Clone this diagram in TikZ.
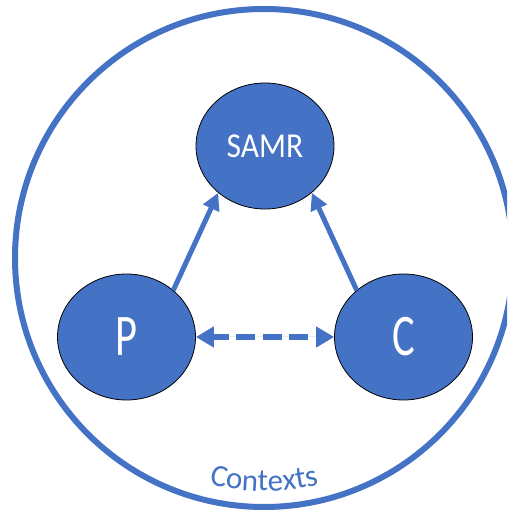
\documentclass[tikz,border=0pt]{standalone}
\usepackage{fontspec}
\setmainfont{Carlito}
\usetikzlibrary{arrows.meta,decorations.text,shapes.geometric}
\definecolor{accent}{HTML}{4472C4}
\newcommand\ctxfont{\fontsize{31}{31}\selectfont}
\begin{document}
\begin{tikzpicture}[x=1pt,y=1pt,
  bubble/.style={ellipse, fill=accent, draw=black, line width=0.8pt, minimum width=138pt, minimum height=126pt, inner sep=0pt, text=white},
  solidarrow/.style={draw=accent, fill=accent, line width=5pt, -{Triangle[length=17pt,width=17pt]}},
  dasharrow/.style={draw=accent, fill=accent, line width=6.5pt, dash pattern=on 19pt off 7.5pt, dash phase=3pt, {Triangle[length=18pt,width=20pt]}-{Triangle[length=18pt,width=20pt]}}]
\useasboundingbox (0,0) rectangle (507,512);
\clip (0,0) rectangle (507,512);
\node[circle, draw=accent, line width=6pt, minimum size=498pt, inner sep=0pt] (ctx) at (264,254) {};
\node[bubble] (samr) at (265,366) {\scalebox{0.9}[1]{\fontsize{35}{35}\selectfont SAMR}};
\node[bubble] (p) at (126.5,175) {\scalebox{0.72}[1]{\fontsize{59}{59}\selectfont P}};
\node[bubble] (c) at (403.5,175) {\scalebox{0.72}[1]{\fontsize{59}{59}\selectfont C}};
\draw[solidarrow] (p.45) -- (samr.225);
\draw[solidarrow] (c.135) -- (samr.-45);
\draw[dasharrow] (p.east) -- (c.west);
\path[decorate, decoration={text along path, text={|\ctxfont|Contexts}, text align=center, text color=accent}]
  (ctx.center) ++(250:233) arc[start angle=250, end angle=290, radius=233];
\end{tikzpicture}
\end{document}
